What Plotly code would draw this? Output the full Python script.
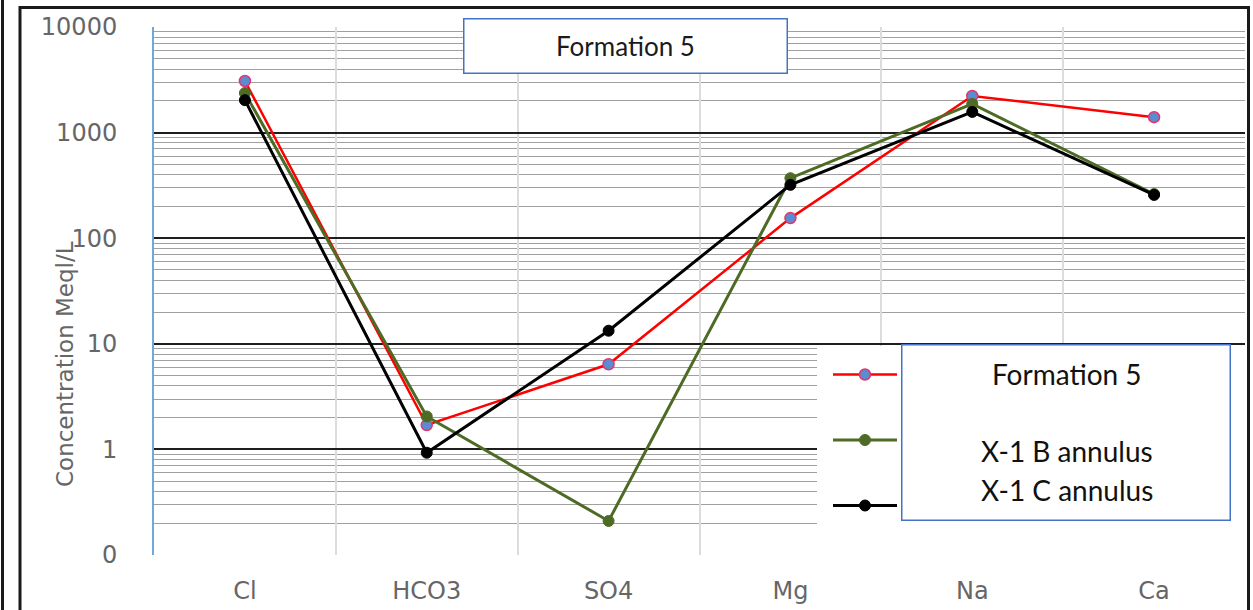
import plotly.graph_objects as go

# Major ions on the x axis and concentrations (meq/L) for each sample
ions = ["Cl", "HCO3", "SO4", "Mg", "Na", "Ca"]
formation_5 = [3080, 1.7, 6.4, 155, 2220, 1400]
x1_b_annulus = [2370, 2.05, 0.21, 370, 1870, 262]
x1_c_annulus = [2030, 0.93, 13.3, 320, 1570, 257]
series_names = ["Formation 5", "X-1 B annulus", "X-1 C annulus"]

y_tick_vals = [0.1, 1, 10, 100, 1000, 10000]
y_tick_text = ["0", "1", "10", "100", "1000", "10000"]

# Canvas and plot-area geometry (pixels)
W, H = 1253, 610
ML, MR, MT, MB = 154, 8, 27, 55
PW, PH = W - ML - MR, H - MT - MB


def px(x):
    return (x - ML) / PW


def py(y):
    return (H - MB - y) / PH


GRAY = "#666666"
AXIS_FONT = "DejaVu Sans"
BOX_FONT = "Lato"

fig = go.Figure()

styles = [
    dict(line=dict(color="#FF0000", width=2.5),
         marker=dict(size=11, color="#5B8BD0", line=dict(color="#E8336B", width=1.5))),
    dict(line=dict(color="#4E6B26", width=3),
         marker=dict(size=11, color="#4E6B26", line=dict(color="#4E6B26", width=1))),
    dict(line=dict(color="#000000", width=3),
         marker=dict(size=11, color="#000000", line=dict(color="#000000", width=1))),
]

for name, values, style in zip(series_names, [formation_5, x1_b_annulus, x1_c_annulus], styles):
    fig.add_trace(go.Scatter(
        x=ions, y=values, name=name, mode="lines+markers",
        legendgroup=name, **style,
    ))

minor_vals = [d * 10 ** e for e in range(-1, 4) for d in range(2, 10)]

fig.update_layout(
    width=W, height=H,
    margin=dict(l=ML, r=MR, t=MT, b=MB, pad=0, autoexpand=False),
    paper_bgcolor="white", plot_bgcolor="white",
    showlegend=True,
    legend=dict(
        x=px(828), y=py(360), xanchor="left", yanchor="top",
        bgcolor="rgba(0,0,0,0)", font=dict(family=BOX_FONT, size=9, color="#333"),
        tracegroupgap=46.5, itemwidth=64,
    ),
    xaxis=dict(
        type="category", range=[-0.5, 5.5], tickson="boundaries",
        showgrid=True, gridcolor="#dcdcdc", gridwidth=2,
        showline=False, zeroline=False, ticks="", automargin=False,
        tickfont=dict(family=AXIS_FONT, size=24, color=GRAY),
        ticklabelstandoff=19,
    ),
    yaxis=dict(
        type="log", range=[-1, 4],
        tickvals=y_tick_vals, ticktext=y_tick_text,
        showgrid=True, gridcolor="#1e1e1e", gridwidth=1.8,
        minor=dict(tickvals=minor_vals, showgrid=True, gridcolor="#a0a0a0", gridwidth=1, ticks=""),
        showline=True, linecolor="#6FA8DC", linewidth=2,
        zeroline=False, ticks="", automargin=False,
        tickfont=dict(family=AXIS_FONT, size=24, color=GRAY),
        ticklabelstandoff=30,
    ),
    font=dict(family=AXIS_FONT, color=GRAY),
)

shapes = [
    # white backdrop behind the legend
    dict(type="rect", xref="paper", yref="paper",
         x0=px(817), x1=px(1246), y0=py(558), y1=py(346),
         fillcolor="white", line=dict(width=0), layer="above"),
    # outer frame
    dict(type="rect", xref="paper", yref="paper",
         x0=px(20), x1=px(1248.5), y0=py(650), y1=py(7.5),
         line=dict(color="#1a1a1a", width=3), layer="above"),
    dict(type="line", xref="paper", yref="paper",
         x0=px(2.5), x1=px(2.5), y0=py(0), y1=py(H),
         line=dict(color="#1a1a1a", width=3), layer="above"),
]
fig.update_layout(shapes=shapes)

annotations = [
    # rotated y-axis title
    dict(text="Concentration Meql/L", xref="paper", yref="paper",
         x=px(65), y=py(364), xanchor="center", yanchor="middle",
         textangle=-90, showarrow=False,
         font=dict(family=AXIS_FONT, size=23, color=GRAY)),
    # chart title box
    dict(text="Formation 5", xref="paper", yref="paper",
         x=px(625.5), y=py(46), xanchor="center", yanchor="middle",
         width=322, height=53, bgcolor="white",
         bordercolor="#4472C4", borderwidth=1.5, borderpad=0, showarrow=False,
         font=dict(family=BOX_FONT, size=26, color="#1a1a1a")),
    # text box over the legend
    dict(text=" ", xref="paper", yref="paper",
         x=px(1066), y=py(432.5), xanchor="center", yanchor="middle",
         width=327, height=174, bgcolor="white",
         bordercolor="#4472C4", borderwidth=1.5, borderpad=0, showarrow=False),
]
for label, ypix in zip(series_names, [374, 451, 490]):
    annotations.append(dict(
        text=label, xref="paper", yref="paper",
        x=px(1067), y=py(ypix), xanchor="center", yanchor="middle",
        showarrow=False, font=dict(family=BOX_FONT, size=28, color="#111111"),
    ))
fig.update_layout(annotations=annotations)

fig.write_html("out.html")
